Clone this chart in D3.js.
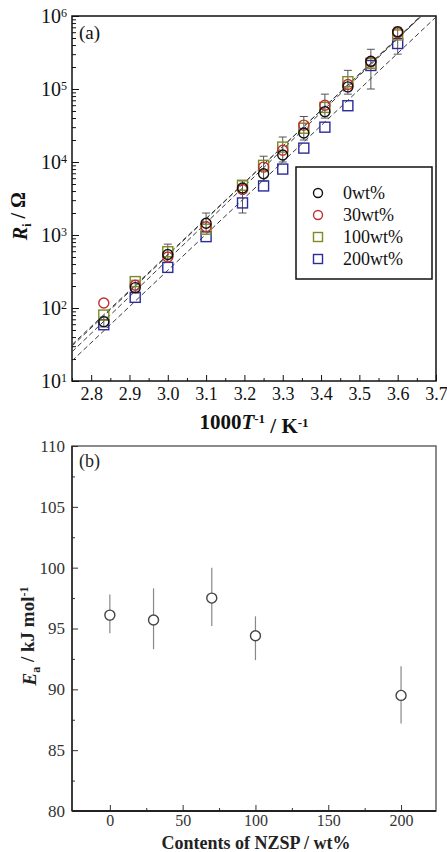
<!DOCTYPE html>
<html>
<head>
<meta charset="utf-8">
<script src="https://cdn.jsdelivr.net/npm/d3@7"></script>
<style>
  body { margin: 0; background: #fff; }
  text { font-family: "Liberation Serif", "Times New Roman", serif; }
</style>
</head>
<body>
<div id="chart"></div>
<script>
// Data for panel (a): interfacial resistance vs 1000/T
const invT = [2.833, 2.915, 3.0, 3.1, 3.195, 3.25, 3.3, 3.355, 3.41, 3.47, 3.53, 3.6];
const r0   = [65, 190, 540, 1450, 4400, 6900, 12500, 25000, 49000, 107000, 240000, 610000];
const r30  = [117, 205, 500, 1300, 4200, 8500, 14500, 32000, 60000, 115000, 235000, 590000];
const r100 = [80, 230, 590, 1200, 4800, 9000, 16000, 29000, 56000, 126000, 225000, 550000];
const r200 = [59, 140, 360, 950, 2750, 4700, 8000, 15500, 30000, 59000, 210000, 420000];
const r0Lo = [55, 160, 420, 1100, 2000, 5500, 10000, 20000, 40000, 85000, 100000, 300000];
const r0Hi = [75, 240, 750, 2000, 5500, 12000, 22000, 42000, 85000, 180000, 350000, 700000];
const seriesNames = ['0wt%', '30wt%', '100wt%', '200wt%'];
const xTicksA = [2.8, 2.9, 3.0, 3.1, 3.2, 3.3, 3.4, 3.5, 3.6, 3.7];
const yTicksA = [10, 100, 1000, 10000, 100000, 1000000];

// Data for panel (b): activation energy vs NZSP content
const contents = [0, 30, 70, 100, 200];
const ea   = [96.1, 95.7, 97.5, 94.4, 89.5];
const eaLo = [94.6, 93.3, 95.2, 92.4, 87.2];
const eaHi = [97.8, 98.3, 100.0, 96.0, 91.9];
const xTicksB = [0, 50, 100, 150, 200];
const yTicksB = [80, 85, 90, 95, 100, 105, 110];

const width = 447, height = 852;
const colors = ['#111111', '#c03030', '#7d8a22', '#2b2b9b'];
const shapes = ['circle', 'circle', 'square', 'square'];

const svg = d3.select('#chart').append('svg')
  .attr('width', width)
  .attr('height', height);

// ---------- panel (a) ----------
const a = { left: 72, right: 436, top: 16, bottom: 381 };
const xA = d3.scaleLinear().domain([2.75, 3.7]).range([a.left, a.right]);
const yA = d3.scaleLog().domain([10, 1e6]).range([a.bottom, a.top]);

svg.append('clipPath').attr('id', 'clipA')
  .append('rect')
  .attr('x', a.left).attr('y', a.top)
  .attr('width', a.right - a.left).attr('height', a.bottom - a.top);

// minor ticks
const xMinorA = d3.range(2.75, 3.7, 0.05).filter(v => Math.abs(v * 10 - Math.round(v * 10)) > 0.01);
svg.append('g')
  .attr('transform', `translate(0,${a.bottom})`)
  .call(d3.axisBottom(xA).tickValues(xMinorA).tickSize(-3).tickSizeOuter(0).tickFormat(''))
  .call(g => g.select('.domain').remove());

const yMinorA = [];
yTicksA.slice(0, -1).forEach(d => { for (let k = 2; k <= 9; k++) yMinorA.push(d * k); });
svg.append('g')
  .attr('transform', `translate(${a.left},0)`)
  .call(d3.axisLeft(yA).tickValues(yMinorA).tickSize(-4).tickSizeOuter(0).tickFormat(''))
  .call(g => g.select('.domain').remove());

// major axes
svg.append('g')
  .attr('transform', `translate(0,${a.bottom})`)
  .call(d3.axisBottom(xA).tickValues(xTicksA).tickSize(-6).tickSizeOuter(0).tickPadding(6)
        .tickFormat(d3.format('.1f')))
  .call(g => g.select('.domain').remove())
  .call(g => g.selectAll('text').attr('font-size', '18px').attr('fill', '#111')
        .style('font-family', '"Liberation Serif", serif'));

svg.append('g')
  .attr('transform', `translate(${a.left},0)`)
  .call(d3.axisLeft(yA).tickValues(yTicksA).tickSize(-7).tickSizeOuter(0).tickPadding(5))
  .call(g => g.select('.domain').remove())
  .call(g => g.selectAll('.tick text').each(function (d) {
    const t = d3.select(this).text('')
      .attr('font-size', '20px').attr('fill', '#111')
      .style('font-family', '"Liberation Serif", serif');
    t.append('tspan').text('10');
    t.append('tspan').attr('dy', '-0.5em').attr('font-size', '12px')
      .text(Math.round(Math.log10(d)));
  }));

svg.selectAll('.tick line').attr('stroke', '#111');

// frame
svg.append('rect')
  .attr('x', a.left).attr('y', a.top)
  .attr('width', a.right - a.left).attr('height', a.bottom - a.top)
  .attr('fill', 'none').attr('stroke', '#111').attr('stroke-width', 1.5);

const seriesA = [r0, r30, r100, r200];

// linear fits in log space
const plotA = svg.append('g').attr('clip-path', 'url(#clipA)');
seriesA.forEach(vals => {
  const n = invT.length;
  const ly = vals.map(v => Math.log10(v));
  const mx = d3.mean(invT), my = d3.mean(ly);
  let sxy = 0, sxx = 0;
  for (let i = 0; i < n; i++) {
    sxy += (invT[i] - mx) * (ly[i] - my);
    sxx += (invT[i] - mx) * (invT[i] - mx);
  }
  const slope = sxy / sxx, icpt = my - slope * mx;
  const ends = [2.75, 3.7];
  plotA.append('path')
    .datum(ends)
    .attr('d', d3.line().x(d => xA(d)).y(d => yA(Math.pow(10, icpt + slope * d))))
    .attr('fill', 'none')
    .attr('stroke', '#3a3a3a')
    .attr('stroke-width', 1)
    .attr('stroke-dasharray', '5,3');
});

// error bars for 0wt%
const err = plotA.append('g').attr('stroke', '#555').attr('stroke-width', 1);
invT.forEach((t, i) => {
  err.append('line').attr('x1', xA(t)).attr('x2', xA(t))
    .attr('y1', yA(r0Lo[i])).attr('y2', yA(r0Hi[i]));
  [r0Lo[i], r0Hi[i]].forEach(v => {
    err.append('line').attr('x1', xA(t) - 4).attr('x2', xA(t) + 4)
      .attr('y1', yA(v)).attr('y2', yA(v));
  });
});

// markers
function drawMarker(g, shape, color, cx, cy, s) {
  if (shape === 'circle') {
    g.append('circle').attr('cx', cx).attr('cy', cy).attr('r', s / 2)
      .attr('fill', 'none').attr('stroke', color).attr('stroke-width', 1.4);
  } else {
    g.append('rect').attr('x', cx - s / 2).attr('y', cy - s / 2)
      .attr('width', s).attr('height', s)
      .attr('fill', 'none').attr('stroke', color).attr('stroke-width', 1.4);
  }
}

[3, 2, 1, 0].forEach(k => {
  const g = plotA.append('g');
  seriesA[k].forEach((v, i) => drawMarker(g, shapes[k], colors[k], xA(invT[i]), yA(v), 10));
});

// legend
const leg = svg.append('g');
leg.append('rect')
  .attr('x', 296).attr('y', 167).attr('width', 136).attr('height', 112)
  .attr('fill', '#fff').attr('stroke', '#111').attr('stroke-width', 1.5);
seriesNames.forEach((name, k) => {
  const yy = 193 + k * 22;
  drawMarker(leg, shapes[k], colors[k], 318, yy, 9);
  leg.append('text').attr('x', 343).attr('y', yy + 6)
    .attr('font-size', '18px').attr('fill', '#111').text(name);
});

svg.append('text').attr('x', 79).attr('y', 39)
  .attr('font-size', '19px').attr('fill', '#111').text('(a)');

// axis titles (a)
const xtA = svg.append('text')
  .attr('x', 254).attr('y', 429)
  .attr('text-anchor', 'middle')
  .attr('font-size', '21px').attr('font-weight', 'bold').attr('fill', '#111');
xtA.append('tspan').text('1000');
xtA.append('tspan').attr('font-style', 'italic').text('T');
xtA.append('tspan').attr('dy', '-0.5em').attr('font-size', '13px').text('-1');
xtA.append('tspan').attr('dy', '0.5em').text(' / K');
xtA.append('tspan').attr('dy', '-0.5em').attr('font-size', '13px').text('-1');

const ytA = svg.append('text')
  .attr('transform', 'translate(27,216) rotate(-90)')
  .attr('text-anchor', 'middle')
  .attr('font-size', '20px').attr('font-weight', 'bold').attr('fill', '#111');
ytA.append('tspan').attr('font-style', 'italic').text('R');
ytA.append('tspan').attr('dy', '0.3em').attr('font-size', '12px').text('i');
ytA.append('tspan').attr('dy', '-0.3em').text(' / Ω');

// ---------- panel (b) ----------
const b = { left: 72, right: 436, top: 446, bottom: 811 };
const xB = d3.scaleLinear().domain([-26, 224]).range([b.left, b.right]);
const yB = d3.scaleLinear().domain([80, 110]).range([b.bottom, b.top]);

svg.append('rect')
  .attr('x', b.left).attr('y', b.top)
  .attr('width', b.right - b.left).attr('height', b.bottom - b.top)
  .attr('fill', 'none').attr('stroke', '#666').attr('stroke-width', 1.5);

const gxB = svg.append('g').attr('transform', `translate(0,${b.bottom})`);
gxB.append('g')
  .call(d3.axisBottom(xB).tickValues([25, 75, 125, 175]).tickSize(-3).tickSizeOuter(0).tickFormat(''))
  .call(g => g.select('.domain').remove());
gxB.append('g')
  .call(d3.axisBottom(xB).tickValues(xTicksB).tickSize(-6).tickSizeOuter(0).tickPadding(4))
  .call(g => g.select('.domain').remove())
  .call(g => g.selectAll('text').attr('font-size', '16px').attr('fill', '#333')
        .style('font-family', '"Liberation Serif", serif'));

const gyB = svg.append('g').attr('transform', `translate(${b.left},0)`);
gyB.append('g')
  .call(d3.axisLeft(yB).tickValues(d3.range(82.5, 110, 5)).tickSize(-3).tickSizeOuter(0).tickFormat(''))
  .call(g => g.select('.domain').remove());
gyB.append('g')
  .call(d3.axisLeft(yB).tickValues(yTicksB).tickSize(-6).tickSizeOuter(0).tickPadding(7))
  .call(g => g.select('.domain').remove())
  .call(g => g.selectAll('text').attr('font-size', '17px').attr('fill', '#333')
        .style('font-family', '"Liberation Serif", serif'));

gxB.selectAll('.tick line').attr('stroke', '#333');
gyB.selectAll('.tick line').attr('stroke', '#333');

// left and bottom axis lines
svg.append('line').attr('x1', b.left).attr('x2', b.left).attr('y1', b.top).attr('y2', b.bottom)
  .attr('stroke', '#222').attr('stroke-width', 1.5);
svg.append('line').attr('x1', b.left).attr('x2', b.right).attr('y1', b.bottom).attr('y2', b.bottom)
  .attr('stroke', '#222').attr('stroke-width', 2);

// error bars and points
const errB = svg.append('g').attr('stroke', '#888').attr('stroke-width', 1.2);
contents.forEach((c, i) => {
  errB.append('line').attr('x1', xB(c)).attr('x2', xB(c))
    .attr('y1', yB(eaLo[i])).attr('y2', yB(eaHi[i]));
});
svg.append('g').selectAll('circle')
  .data(contents)
  .enter()
  .append('circle')
  .attr('cx', d => xB(d))
  .attr('cy', (d, i) => yB(ea[i]))
  .attr('r', 5)
  .attr('fill', '#fff')
  .attr('stroke', '#444')
  .attr('stroke-width', 1.4);

svg.append('text').attr('x', 79).attr('y', 467)
  .attr('font-size', '18px').attr('fill', '#222').text('(b)');

svg.append('text')
  .attr('x', 256).attr('y', 849)
  .attr('text-anchor', 'middle')
  .attr('font-size', '18px').attr('font-weight', 'bold').attr('fill', '#222')
  .text('Contents of NZSP / wt%');

const ytB = svg.append('text')
  .attr('transform', 'translate(36,636) rotate(-90)')
  .attr('text-anchor', 'middle')
  .attr('font-size', '19px').attr('font-weight', 'bold').attr('fill', '#222');
ytB.append('tspan').attr('font-style', 'italic').text('E');
ytB.append('tspan').attr('dy', '0.3em').attr('font-size', '12px').text('a');
ytB.append('tspan').attr('dy', '-0.3em').text(' / kJ mol');
ytB.append('tspan').attr('dy', '-0.5em').attr('font-size', '12px').text('-1');
</script>
</body>
</html>
